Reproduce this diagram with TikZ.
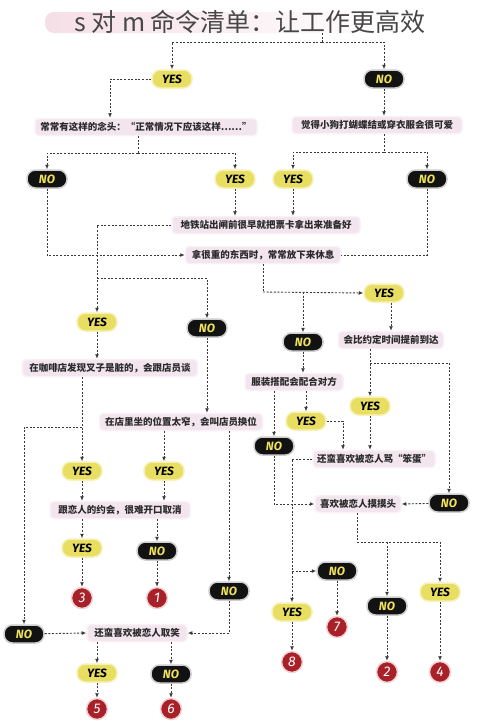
\documentclass[tikz,border=0pt]{standalone}
\usepackage{fontspec}
\setmainfont{Liberation Sans}
\newfontfamily\cjk{Noto Sans CJK SC}
\newfontfamily\pillfont{Fira Sans}
\usetikzlibrary{arrows.meta}
\definecolor{pinkbox}{HTML}{F3E5EE}
\definecolor{pinkglow}{HTML}{FAF1F6}
\definecolor{yesfill}{HTML}{E8DE62}
\definecolor{yesglow}{HTML}{F6F1B8}
\definecolor{nofill}{HTML}{121212}
\definecolor{noglow}{HTML}{CFCFCF}
\definecolor{notext}{HTML}{F0E35C}
\definecolor{numred}{HTML}{A82128}
\definecolor{numglow}{HTML}{F2D3D6}
\definecolor{linecol}{HTML}{3A3A3A}
\definecolor{txt}{HTML}{2A2A2A}
\definecolor{titlepink}{HTML}{F5DFE6}
\tikzset{
  qbox/.style={rectangle, rounded corners=4pt, fill=pinkbox, draw=pinkglow, line width=1.5pt,
    minimum height=17pt, inner xsep=4pt, inner ysep=2pt, text=txt,
    font=\cjk\bfseries\fontsize{9.5}{10}\selectfont},
  pill/.style={rectangle, rounded corners=8.5pt, line width=1.5pt, minimum width=40pt,
    minimum height=18pt, inner sep=0pt, font=\pillfont\bfseries\itshape\fontsize{12}{12}\selectfont},
  yesp/.style={pill, fill=yesfill, draw=yesglow, text=black},
  nop/.style={pill, fill=nofill, draw=noglow, text=notext},
  num/.style={circle, fill=numred, draw=numglow, line width=1.5pt, minimum size=21pt, inner sep=0pt,
    text=white, font=\pillfont\itshape\fontsize{14}{14}\selectfont},
  dl/.style={draw=linecol, line width=0.9pt, dash pattern=on 2pt off 1.6pt},
  dla/.style={dl, -{Latex[length=4.5pt,width=4pt]}}
}
\begin{document}
\begin{tikzpicture}[x=1pt,y=-1pt]
\useasboundingbox (0,0) rectangle (500,721);
\fill[white] (0,0) rectangle (500,721);
% faded title box
\shade[left color=titlepink, right color=white, rounded corners=9pt] (45,12) rectangle (400,33);
\node[font=\cjk\fontsize{25}{25}\selectfont, text=black!72] (title) at (250,22) {s 对 m 命令清单：让工作更高效};
\coordinate (top) at (322,33);
\coordinate (s0) at (322,42);

% boxes
\node[qbox, minimum width=222pt] (box1) at (146,127) {常常有这样的念头：“正常情况下应该这样……”};
\node[qbox, minimum width=170pt] (box2) at (377,125) {觉得小狗打蝴蝶结或穿衣服会很可爱};
\node[qbox, minimum width=188pt] (box3) at (266,225) {地铁站出闸前很早就把票卡拿出来准备好};
\node[qbox, minimum width=155pt] (box4) at (263,255) {拿很重的东西时，常常放下来休息};
\node[qbox, minimum width=105pt] (box5) at (391,340) {会比约定时间提前到达};
\node[qbox, minimum width=175pt] (box6) at (110,368) {在咖啡店发现叉子是脏的，会跟店员谈};
\node[qbox, minimum width=163pt] (box7) at (181,422) {在店里坐的位置太窄，会叫店员换位};
\node[qbox, minimum width=98pt] (box8) at (294,382) {服装搭配会配合对方};
\node[qbox, minimum width=117pt] (box9) at (374,459) {还蛮喜欢被恋人骂“笨蛋”};
\node[qbox, minimum width=86pt] (box10) at (358,504) {喜欢被恋人摸摸头};
\node[qbox, minimum width=140pt] (box11) at (120,510) {跟恋人的约会，很难开口取消};
\node[qbox, minimum width=100pt] (box12) at (137,633) {还蛮喜欢被恋人取笑};

% pills
\node[yesp] (yes1) at (172,79) {YES};
\node[nop] (no1) at (384,79) {NO};
\node[nop] (no2) at (47,179) {NO};
\node[yesp] (yes2) at (235,179) {YES};
\node[yesp] (yes3) at (293,179) {YES};
\node[nop] (no3) at (427,179) {NO};
\node[yesp] (yes4) at (97,322) {YES};
\node[nop] (no4) at (207,328) {NO};
\node[yesp] (yes5) at (384,293) {YES};
\node[nop] (no5) at (303,342) {NO};
\node[yesp] (yes6) at (370,406) {YES};
\node[yesp] (yes7) at (306,421) {YES};
\node[nop] (no6) at (274,446) {NO};
\node[nop] (no7) at (449,503) {NO};
\node[yesp] (yes10) at (82,471) {YES};
\node[yesp] (yes11) at (164,471) {YES};
\node[yesp] (yes12) at (82,548) {YES};
\node[nop] (no11) at (157,551) {NO};
\node[nop] (no10) at (229,591) {NO};
\node[nop] (no8) at (337,571) {NO};
\node[yesp] (yes8) at (292,612) {YES};
\node[nop] (no9) at (387,606) {NO};
\node[yesp] (yes9) at (440,592) {YES};
\node[nop] (no12) at (24,634) {NO};
\node[yesp] (yes13) at (97,673) {YES};
\node[nop] (no13) at (171,674) {NO};

% result circles
\node[num] (c3) at (82,598) {3};
\node[num] (c1) at (157,598) {1};
\node[num] (c7) at (337,627) {7};
\node[num] (c8) at (292,662) {8};
\node[num] (c2) at (387,672) {2};
\node[num] (c4) at (440,672) {4};
\node[num] (c5) at (97,709) {5};
\node[num] (c6) at (171,709) {6};

% connectors
\draw[dl] (top) -- (s0);
\draw[dla] (s0) -| (yes1);
\draw[dla] (s0) -| (no1);
\draw[dla] (yes1.west) -| (110,0 |- box1.north);
\draw[dla] (no1) -- (no1 |- box2.north);

\coordinate (s1) at (138,153);
\draw[dl] (138,0 |- box1.south) -- (s1);
\draw[dla] (s1) -| (no2);
\draw[dla] (s1) -| (yes2);
\coordinate (s2) at (384,152);
\draw[dl] (384,0 |- box2.south) -- (s2);
\draw[dla] (s2) -| (yes3);
\draw[dla] (s2) -| (no3);

\draw[dla] (yes2) -- (yes2 |- box3.north);
\draw[dla] (yes3) -- (yes3 |- box3.north);
\draw[dla] (box3.west) -| (yes4);
\coordinate (s3) at (97,278);
\draw[dla] (s3) -| (no4);

\draw[dla] (no2) |- (box4.west);
\draw[dl] (no3) |- (box4.east);
\coordinate (s4) at (263,292);
\draw[dl] (box4.south) -- (s4);
\draw[dla] (s4) -- (yes5.west);
\coordinate (s4b) at (303,292);
\draw[dla] (s4b) -- (no5);

\draw[dla] (391,0 |- yes5.south) -- (391,0 |- box5.north);
\draw[dla] (yes4) -- (yes4 |- box6.north);
\draw[dla] (no4) -- (no4 |- box7.north);
\draw[dla] (no5) -- (no5 |- box8.north);

\draw[dla] (yes6 |- box5.south) -- (yes6);
\coordinate (s5) at (370,363);
\draw[dla] (s5) -| (no7);
\draw[dla] (yes6) -- (yes6 |- box9.north);

\draw[dla] (no6 |- box8.south) -- (no6);
\draw[dla] (yes7 |- box8.south) -- (yes7);
\draw[dla] (yes7.east) -| (343,0 |- box9.north);
\draw[dla] (no6) |- (box10.west);
\draw[dla] (box9.west) -| (yes8);
\coordinate (s9) at (292,571);
\draw[dla] (s9) -- (no8.west);
\draw[dla] (no8) -- (c7);
\draw[dla] (yes8) -- (c8);
\draw[dla] (no7) -- (box10.east);

\coordinate (s10) at (357,542);
\draw[dl] (357,0 |- box10.south) -- (s10);
\draw[dla] (s10) -| (yes9);
\draw[dla] (no9 |- s10) -- (no9);
\draw[dla] (no9) -- (c2);
\draw[dla] (yes9) -- (c4);

\draw[dla] (yes10 |- box6.south) -- (yes10);
\coordinate (s6) at (82,427);
\draw[dla] (s6) -| (no12);
\draw[dla] (yes11 |- box7.south) -- (yes11);
\draw[dla] (no10 |- box7.south) -- (no10);
\draw[dla] (yes10) -- (yes10 |- box11.north);
\draw[dla] (yes11) -- (yes11 |- box11.north);
\draw[dla] (yes12 |- box11.south) -- (yes12);
\draw[dla] (no11 |- box11.south) -- (no11);
\draw[dla] (yes12) -- (c3);
\draw[dla] (no11) -- (c1);

\draw[dla] (no12) -- (box12.west);
\draw[dla] (no10) |- (box12.east);
\draw[dla] (yes13 |- box12.south) -- (yes13);
\draw[dla] (no13 |- box12.south) -- (no13);
\draw[dla] (yes13) -- (c5);
\draw[dla] (no13) -- (c6);
\end{tikzpicture}
\end{document}
